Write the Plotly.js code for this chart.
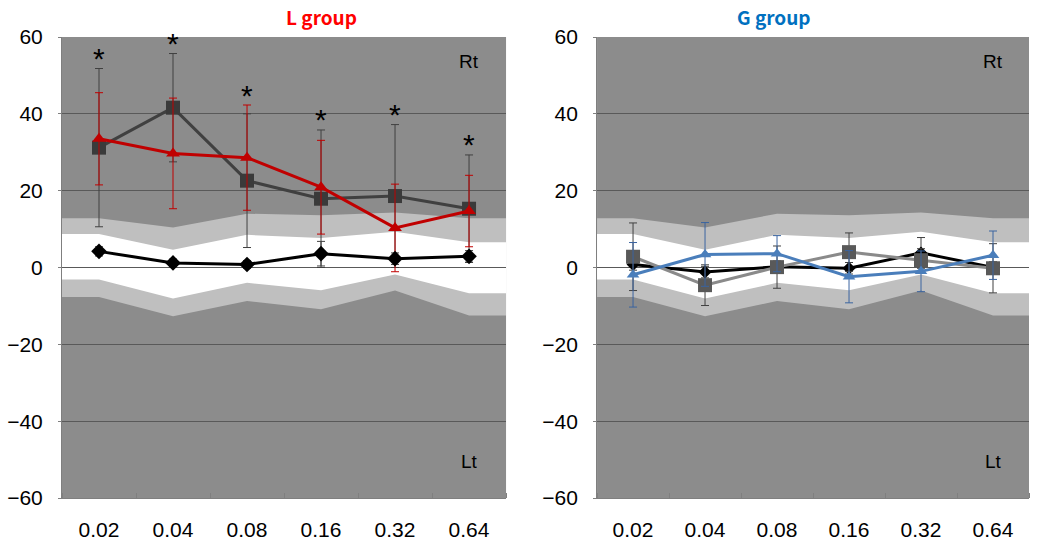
<!DOCTYPE html>
<html>
<head>
<meta charset="utf-8">
<script src="https://cdn.plot.ly/plotly-3.0.1.min.js"></script>
<style>
  html, body { margin: 0; padding: 0; background: #fff; }
  #chart { width: 1037px; height: 543px; }
</style>
</head>
<body>
<div id="chart"></div>
<script>
// ---- data ----
const categories = ['0.02', '0.04', '0.08', '0.16', '0.32', '0.64'];

// reference band boundaries (same for both panels)
const bandOuterHi = [12.8, 10.4, 14.0, 13.6, 14.3, 12.8];
const bandInnerHi = [8.7, 4.6, 8.5, 7.7, 9.3, 6.6];
const bandInnerLo = [-3.1, -8.1, -4.0, -5.9, -1.8, -6.7];
const bandOuterLo = [-7.7, -12.7, -8.7, -10.9, -6.0, -12.5];

// L group
const lSquare = [31.2, 41.6, 22.6, 17.9, 18.6, 15.3];
const lSquareErr = [20.6, 14.1, 17.4, 17.9, 18.6, 14.0];
const lTriangle = [33.5, 29.7, 28.6, 20.9, 10.3, 14.7];
const lTriangleErr = [12.0, 14.4, 13.7, 12.2, 11.4, 9.3];
const lDiamond = [4.2, 1.2, 0.8, 3.6, 2.3, 2.9];
const lDiamondErr = [1.2, 1.0, 1.0, 3.2, 1.5, 1.5];
const lSignificance = ['*', '*', '*', '*', '*', '*'];

// G group
const gDiamond = [0.8, -1.2, 0.2, -0.2, 3.8, 0.0];
const gDiamondErr = [1.5, 1.5, 1.5, 1.5, 4.0, 1.5];
const gSquare = [2.8, -4.6, 0.1, 4.0, 1.9, -0.2];
const gSquareErr = [8.8, 5.3, 5.5, 5.0, 3.0, 6.4];
const gTriangle = [-1.9, 3.4, 3.6, -2.4, -1.0, 3.2];
const gTriangleErr = [8.4, 8.3, 4.7, 6.8, 5.3, 6.3];

// ---- build ----
const idx = categories.map((_, i) => i);
const n = categories.length;
const edgeX = [-0.5].concat(idx, [n - 0.5]);
function edgeY(a) { return [a[0]].concat(a, [a[a.length - 1]]); }
function bandPath(hi, lo) {
  const yh = edgeY(hi), yl = edgeY(lo);
  let p = 'M ' + edgeX[0] + ',' + yh[0];
  for (let i = 1; i < edgeX.length; i++) p += ' L ' + edgeX[i] + ',' + yh[i];
  for (let i = edgeX.length - 1; i >= 0; i--) p += ' L ' + edgeX[i] + ',' + yl[i];
  return p + ' Z';
}
function bandShapes(xref, yref) {
  return [
    { type: 'path', xref: xref, yref: yref, layer: 'below', path: bandPath(bandOuterHi, bandOuterLo),
      fillcolor: '#bfbfbf', line: { width: 0 } },
    { type: 'path', xref: xref, yref: yref, layer: 'below', path: bandPath(bandInnerHi, bandInnerLo),
      fillcolor: '#ffffff', line: { width: 0 } }
  ];
}

function series(xa, ya, y, err, lineColor, markerColor, symbol, size, errColor) {
  return {
    type: 'scatter', mode: 'lines+markers', xaxis: xa, yaxis: ya,
    x: idx, y: y,
    line: { color: lineColor, width: 3 },
    marker: { symbol: symbol, size: size, color: markerColor },
    error_y: { type: 'data', array: err, visible: true, color: errColor, thickness: 1, width: 4 },
    hoverinfo: 'skip', showlegend: false, cliponaxis: false
  };
}

const traces = [
  series('x', 'y', lSquare, lSquareErr, '#404040', '#3a3a3a', 'square', 14, '#404040'),
  series('x', 'y', lTriangle, lTriangleErr, '#c00000', '#c00000', 'triangle-up', 12, '#c00000'),
  series('x', 'y', lDiamond, lDiamondErr, '#000000', '#000000', 'diamond', 12, '#404040'),
  series('x2', 'y2', gDiamond, gDiamondErr, '#000000', '#000000', 'diamond', 10, '#404040'),
  series('x2', 'y2', gSquare, gSquareErr, '#8a8a8a', '#595959', 'square', 14, '#404040'),
  series('x2', 'y2', gTriangle, gTriangleErr, '#4a7ebb', '#4a7ebb', 'triangle-up', 11, '#3a64a0')
];

const tickFont = { family: 'Liberation Sans, Arial, sans-serif', size: 21, color: '#000' };
function xAxis(domain, anchor) {
  return {
    domain: domain, anchor: anchor, range: [-0.5, n - 0.5],
    tickmode: 'array', tickvals: idx, ticktext: categories, ticks: '',
    showgrid: false, zeroline: false, showline: true, linecolor: '#7f7f7f', linewidth: 1,
    tickfont: tickFont, ticklabelstandoff: 13,
    minor: { tickmode: 'linear', tick0: 0.5, dtick: 1, ticks: 'inside', ticklen: 5,
             tickcolor: '#7f7f7f', tickwidth: 1, showgrid: false },
    fixedrange: true
  };
}
function yAxis(anchor) {
  return {
    anchor: anchor, range: [-60, 60], tick0: 0, dtick: 20,
    showgrid: true, gridcolor: '#595959', gridwidth: 1, zeroline: false,
    showline: true, linecolor: '#7f7f7f', linewidth: 1,
    ticks: 'outside', ticklen: 3, tickcolor: '#7f7f7f',
    tickfont: tickFont, ticklabelstandoff: 11, fixedrange: true
  };
}

const titleFont = { family: 'Noto Sans CJK KR, Liberation Sans, sans-serif', size: 19 };
const annotations = [
  { xref: 'paper', yref: 'paper', x: 0.2296, y: 1, yanchor: 'middle', yshift: 21, showarrow: false,
    text: '<b>L group</b>', font: Object.assign({ color: '#ff0000' }, titleFont) },
  { xref: 'paper', yref: 'paper', x: 0.7766, y: 1, yanchor: 'middle', yshift: 21, showarrow: false,
    text: '<b>G group</b>', font: Object.assign({ color: '#0070c0' }, titleFont) },
  { xref: 'x', yref: 'y', x: n - 1, y: 53.6, showarrow: false, text: 'Rt',
    font: { family: 'Liberation Sans, Arial, sans-serif', size: 19, color: '#000' } },
  { xref: 'x', yref: 'y', x: n - 1, y: -50.5, showarrow: false, text: 'Lt',
    font: { family: 'Liberation Sans, Arial, sans-serif', size: 19, color: '#000' } },
  { xref: 'x2', yref: 'y2', x: n - 1, y: 53.6, showarrow: false, text: 'Rt',
    font: { family: 'Liberation Sans, Arial, sans-serif', size: 19, color: '#000' } },
  { xref: 'x2', yref: 'y2', x: n - 1, y: -50.5, showarrow: false, text: 'Lt',
    font: { family: 'Liberation Sans, Arial, sans-serif', size: 19, color: '#000' } }
];
lSignificance.forEach((s, i) => {
  const top = Math.max(lSquare[i] + lSquareErr[i], lTriangle[i] + lTriangleErr[i]);
  annotations.push({ xref: 'x', yref: 'y', x: i, y: top, yanchor: 'middle', yshift: 10,
    showarrow: false, text: s, font: { family: 'Liberation Sans, Arial, sans-serif', size: 30, color: '#000' } });
});

const layout = {
  width: 1037, height: 543,
  margin: { l: 62, r: 8, t: 37, b: 45 },
  paper_bgcolor: '#ffffff', plot_bgcolor: '#8c8c8c',
  showlegend: false,
  xaxis: xAxis([0, 0.4592], 'y'),
  yaxis: yAxis('x'),
  xaxis2: xAxis([0.5533, 1.0], 'y2'),
  yaxis2: yAxis('x2'),
  shapes: bandShapes('x', 'y').concat(bandShapes('x2', 'y2')),
  annotations: annotations
};

Plotly.newPlot('chart', traces, layout, { staticPlot: true, displayModeBar: false });
</script>
</body>
</html>
